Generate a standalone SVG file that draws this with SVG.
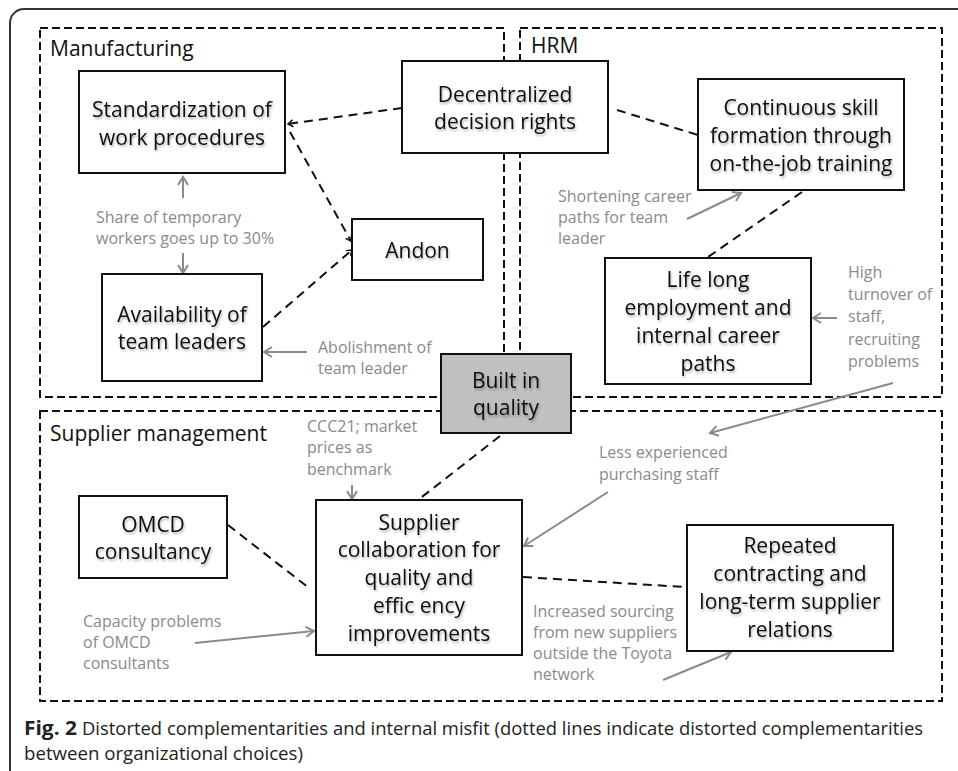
<svg xmlns="http://www.w3.org/2000/svg" width="958" height="771" viewBox="0 0 958 771">
<style>
  .frame{fill:none;stroke:#333;stroke-width:2}
  .area{fill:none;stroke:#111;stroke-width:2;stroke-dasharray:8 4}
  .box{fill:#fff;stroke:#111;stroke-width:2}
  .grey{fill:#c0c0c0;stroke:#111;stroke-width:2}
  .t{font-family:"Open Sans","Liberation Sans",sans-serif;font-size:21px;fill:#111;text-anchor:middle}
  .lab{font-family:"Open Sans","Liberation Sans",sans-serif;font-size:21px;fill:#111}
  .ann{font-family:"Open Sans","Liberation Sans",sans-serif;font-size:16px;fill:#8a8a8a}
  .dash{fill:none;stroke:#111;stroke-width:2;stroke-dasharray:9 6}
  .arr{fill:none;stroke:#8a8a8a;stroke-width:2;marker-end:url(#ga)}
  .cap{font-family:"Open Sans","Liberation Sans",sans-serif;font-size:19px;fill:#222}
</style>
<defs>
  <filter id="sh" x="-10%" y="-20%" width="130%" height="150%">
    <feDropShadow dx="1" dy="2" stdDeviation="1.2" flood-color="#000" flood-opacity="0.3"/>
  </filter>
  <marker id="ga" markerUnits="userSpaceOnUse" markerWidth="14" markerHeight="14" refX="11" refY="7" orient="auto">
    <path d="M3,2 L11,7 L3,12" fill="none" stroke="#8a8a8a" stroke-width="2"/>
  </marker>
  <marker id="da" markerUnits="userSpaceOnUse" markerWidth="10" markerHeight="10" refX="7" refY="5" orient="auto">
    <path d="M2,1.5 L7,5 L2,8.5" fill="none" stroke="#111" stroke-width="1.5"/>
  </marker>
</defs>
<rect x="0" y="0" width="958" height="771" fill="#fff"/>
<rect class="frame" x="10" y="9" width="980" height="790" rx="14"/>

<g id="areas">
  <rect id="area-manufacturing" class="area" x="40" y="28" width="464" height="369"/>
  <rect id="area-hrm" class="area" x="520" y="28" width="422" height="369"/>
  <rect id="area-supplier" class="area" x="40" y="411" width="902" height="290"/>
  <text class="lab" x="50" y="56">Manufacturing</text>
  <text class="lab" x="531" y="53">HRM</text>
  <text class="lab" x="50" y="441">Supplier management</text>
</g>

<g id="connectors">
  <line class="dash" x1="402" y1="108" x2="288" y2="124" marker-end="url(#da)"/>
  <line class="dash" x1="290" y1="132" x2="351" y2="241" marker-end="url(#da)"/>
  <line class="dash" x1="263" y1="327" x2="352" y2="250" marker-end="url(#da)"/>
  <line class="dash" x1="617" y1="110" x2="698" y2="135"/>
  <line class="dash" x1="802" y1="192" x2="708" y2="257"/>
  <line class="dash" x1="500" y1="436" x2="418" y2="500"/>
  <line class="dash" x1="228" y1="525" x2="309" y2="588"/>
  <line class="dash" x1="523" y1="577" x2="684" y2="587"/>
</g>

<g id="influences">
  <line class="arr" x1="183" y1="198" x2="183" y2="177"/>
  <line class="arr" x1="183" y1="253" x2="183" y2="273"/>
  <line class="arr" x1="307" y1="352" x2="264" y2="352"/>
  <line class="arr" x1="687" y1="219" x2="741" y2="193"/>
  <line class="arr" x1="837" y1="318" x2="813" y2="318"/>
  <line class="arr" x1="893" y1="383" x2="710" y2="433"/>
  <line class="arr" x1="608" y1="492" x2="524" y2="546"/>
  <line class="arr" x1="352" y1="485" x2="352" y2="499"/>
  <line class="arr" x1="195" y1="643" x2="314" y2="631"/>
  <line class="arr" x1="663" y1="680" x2="731" y2="652"/>
</g>

<g id="annotations">
  <text class="ann" x="96" y="223">Share of temporary</text>
  <text class="ann" x="96" y="244">workers goes up to 30%</text>
  <text class="ann" x="318" y="353">Abolishment of</text>
  <text class="ann" x="318" y="374">team leader</text>
  <text class="ann" x="558" y="202">Shortening career</text>
  <text class="ann" x="558" y="223">paths for team</text>
  <text class="ann" x="558" y="244">leader</text>
  <text class="ann" x="848" y="278">High</text>
  <text class="ann" x="848" y="300">turnover of</text>
  <text class="ann" x="848" y="322">staff,</text>
  <text class="ann" x="848" y="345">recruiting</text>
  <text class="ann" x="848" y="367">problems</text>
  <text class="ann" x="599" y="458">Less experienced</text>
  <text class="ann" x="599" y="480">purchasing staff</text>
  <text class="ann" x="307" y="432">CCC21; market</text>
  <text class="ann" x="307" y="453">prices as</text>
  <text class="ann" x="307" y="475">benchmark</text>
  <text class="ann" x="83" y="627">Capacity problems</text>
  <text class="ann" x="83" y="648">of OMCD</text>
  <text class="ann" x="83" y="669">consultants</text>
  <text class="ann" x="533" y="617">Increased sourcing</text>
  <text class="ann" x="533" y="638">from new suppliers</text>
  <text class="ann" x="533" y="659">outside the Toyota</text>
  <text class="ann" x="533" y="680">network</text>
</g>

<g id="node-standardization">
  <rect class="box" x="79" y="71" width="206" height="102"/>
  <text class="t" filter="url(#sh)" x="182" y="117">Standardization of</text>
  <text class="t" filter="url(#sh)" x="182" y="145">work procedures</text>
</g>
<g id="node-decentralized">
  <rect class="box" x="402" y="61" width="206" height="92"/>
  <text class="t" filter="url(#sh)" x="505" y="102">Decentralized</text>
  <text class="t" filter="url(#sh)" x="505" y="129">decision rights</text>
</g>
<g id="node-continuous">
  <rect class="box" x="698" y="79" width="206" height="111"/>
  <text class="t" filter="url(#sh)" x="801" y="115">Continuous skill</text>
  <text class="t" filter="url(#sh)" x="801" y="143">formation through</text>
  <text class="t" filter="url(#sh)" x="801" y="171">on-the-job training</text>
</g>
<g id="node-andon">
  <rect class="box" x="352" y="219" width="131" height="61"/>
  <text class="t" filter="url(#sh)" x="417.5" y="258">Andon</text>
</g>
<g id="node-availability">
  <rect class="box" x="102" y="274" width="160" height="107"/>
  <text class="t" filter="url(#sh)" x="182" y="322">Availability of</text>
  <text class="t" filter="url(#sh)" x="182" y="349">team leaders</text>
</g>
<g id="node-lifelong">
  <rect class="box" x="605" y="258" width="206" height="126"/>
  <text class="t" filter="url(#sh)" x="708" y="287">Life long</text>
  <text class="t" filter="url(#sh)" x="708" y="315">employment and</text>
  <text class="t" filter="url(#sh)" x="708" y="343">internal career</text>
  <text class="t" filter="url(#sh)" x="708" y="371">paths</text>
</g>
<g id="node-builtin">
  <rect class="grey" x="441" y="354" width="130" height="79"/>
  <text class="t" filter="url(#sh)" x="506" y="388">Built in</text>
  <text class="t" filter="url(#sh)" x="506" y="415">quality</text>
</g>
<g id="node-omcd">
  <rect class="box" x="79" y="496" width="148" height="82"/>
  <text class="t" filter="url(#sh)" x="153" y="532">OMCD</text>
  <text class="t" filter="url(#sh)" x="153" y="559">consultancy</text>
</g>
<g id="node-supplier">
  <rect class="box" x="316" y="500" width="206" height="155"/>
  <text class="t" filter="url(#sh)" x="419" y="530">Supplier</text>
  <text class="t" filter="url(#sh)" x="419" y="557">collaboration for</text>
  <text class="t" filter="url(#sh)" x="419" y="585">quality and</text>
  <text class="t" filter="url(#sh)" x="419" y="613">effic ency</text>
  <text class="t" filter="url(#sh)" x="419" y="641">improvements</text>
</g>
<g id="node-repeated">
  <rect class="box" x="687" y="525" width="206" height="126"/>
  <text class="t" filter="url(#sh)" x="790" y="553">Repeated</text>
  <text class="t" filter="url(#sh)" x="790" y="581">contracting and</text>
  <text class="t" filter="url(#sh)" x="790" y="609">long-term supplier</text>
  <text class="t" filter="url(#sh)" x="790" y="637">relations</text>
</g>

<g id="caption">
  <text class="cap" x="24" y="735" font-weight="bold" textLength="53" lengthAdjust="spacingAndGlyphs">Fig. 2</text>
  <text class="cap" x="82" y="735" textLength="841" lengthAdjust="spacingAndGlyphs">Distorted complementarities and internal misfit (dotted lines indicate distorted complementarities</text>
  <text class="cap" x="24" y="760" textLength="279" lengthAdjust="spacingAndGlyphs">between organizational choices)</text>
</g>
</svg>
